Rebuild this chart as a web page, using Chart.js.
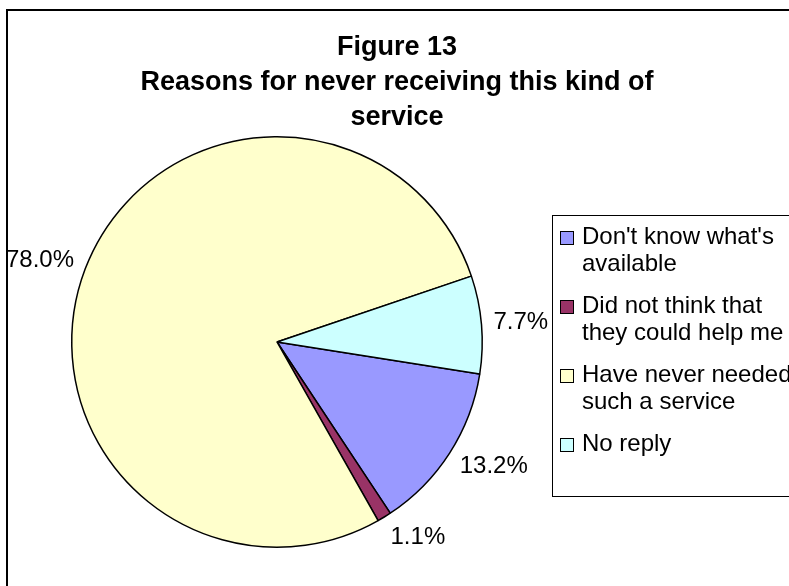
<!DOCTYPE html>
<html>
<head>
<meta charset="utf-8">
<script src="https://cdn.jsdelivr.net/npm/chart.js@4.4.1/dist/chart.umd.min.js"></script>
<style>
  html, body { margin: 0; padding: 0; background: #fff; }
  #wrap { width: 789px; height: 586px; }
</style>
</head>
<body>
<div id="wrap"><canvas id="myPieChart" width="789" height="586"></canvas></div>
<script>
var arrLabels = [
    ["Don't know what's", "available"],
    ["Did not think that", "they could help me"],
    ["Have never needed", "such a service"],
    ["No reply"]
];
var arrValues = [13.2, 1.1, 78.0, 7.7];
var arrColors = ["#9999FF", "#993366", "#FFFFCC", "#CCFFFF"];
var arrTitle = ["Figure 13", "Reasons for never receiving this kind of", "service"];

var FONT = "Liberation Sans, Arial, sans-serif";

var framePlugin = {
    id: 'frame',
    beforeDraw: function (chart) {
        var ctx = chart.ctx;
        ctx.save();
        ctx.fillStyle = '#fff';
        ctx.fillRect(0, 0, chart.width, chart.height);
        ctx.strokeStyle = '#000';
        ctx.lineWidth = 2;
        ctx.strokeRect(7, 10, chart.width + 20, chart.height + 20);
        // title
        ctx.fillStyle = '#000';
        ctx.font = 'bold 27px ' + FONT;
        ctx.textAlign = 'center';
        ctx.textBaseline = 'middle';
        arrTitle.forEach(function (strLine, i) {
            ctx.fillText(strLine, 397, 48 + i * 35);
        });
        ctx.restore();
    }
};

var labelsPlugin = {
    id: 'sliceLabels',
    afterDatasetsDraw: function (chart) {
        var ctx = chart.ctx;
        var meta = chart.getDatasetMeta(0);
        ctx.save();
        ctx.fillStyle = '#000';
        ctx.font = '24px ' + FONT;
        ctx.textBaseline = 'middle';
        meta.data.forEach(function (arc, i) {
            var mid = (arc.startAngle + arc.endAngle) / 2;
            var r = arc.outerRadius + 12;
            var x = arc.x + Math.cos(mid) * r;
            var y = arc.y + Math.sin(mid) * r + Math.sin(mid) * 12;
            ctx.textAlign = Math.cos(mid) >= 0 ? 'left' : 'right';
            ctx.fillText(chart.data.datasets[0].data[i].toFixed(1) + '%', x, y);
        });
        ctx.restore();
    }
};

var legendPlugin = {
    id: 'boxLegend',
    afterDraw: function (chart) {
        var ctx = chart.ctx;
        ctx.save();
        ctx.strokeStyle = '#000';
        ctx.lineWidth = 1;
        ctx.strokeRect(552.5, 215.5, 260, 281);
        ctx.font = '24px ' + FONT;
        ctx.textAlign = 'left';
        ctx.textBaseline = 'middle';
        var y = 237;
        chart.data.labels.forEach(function (arrLines, i) {
            ctx.fillStyle = arrColors[i];
            ctx.fillRect(560.5, y - 5.5, 13, 13);
            ctx.strokeRect(560.5, y - 5.5, 13, 13);
            ctx.fillStyle = '#000';
            arrLines.forEach(function (strLine, j) {
                ctx.fillText(strLine, 582, y + j * 27);
            });
            y += 69;
        });
        ctx.restore();
    }
};

var ctx = document.getElementById("myPieChart");
var myPieChart = new Chart(ctx, {
    type: 'pie',
    data: {
        labels: arrLabels,
        datasets: [{
            data: arrValues,
            backgroundColor: arrColors,
            borderColor: '#000',
            borderWidth: 1.5
        }]
    },
    options: {
        responsive: false,
        animation: false,
        rotation: 99,
        layout: { padding: { left: 71, right: 306, top: 136, bottom: 38 } },
        plugins: {
            legend: { display: false },
            title: { display: false },
            tooltip: { enabled: false }
        }
    },
    plugins: [framePlugin, labelsPlugin, legendPlugin]
});
</script>
</body>
</html>
